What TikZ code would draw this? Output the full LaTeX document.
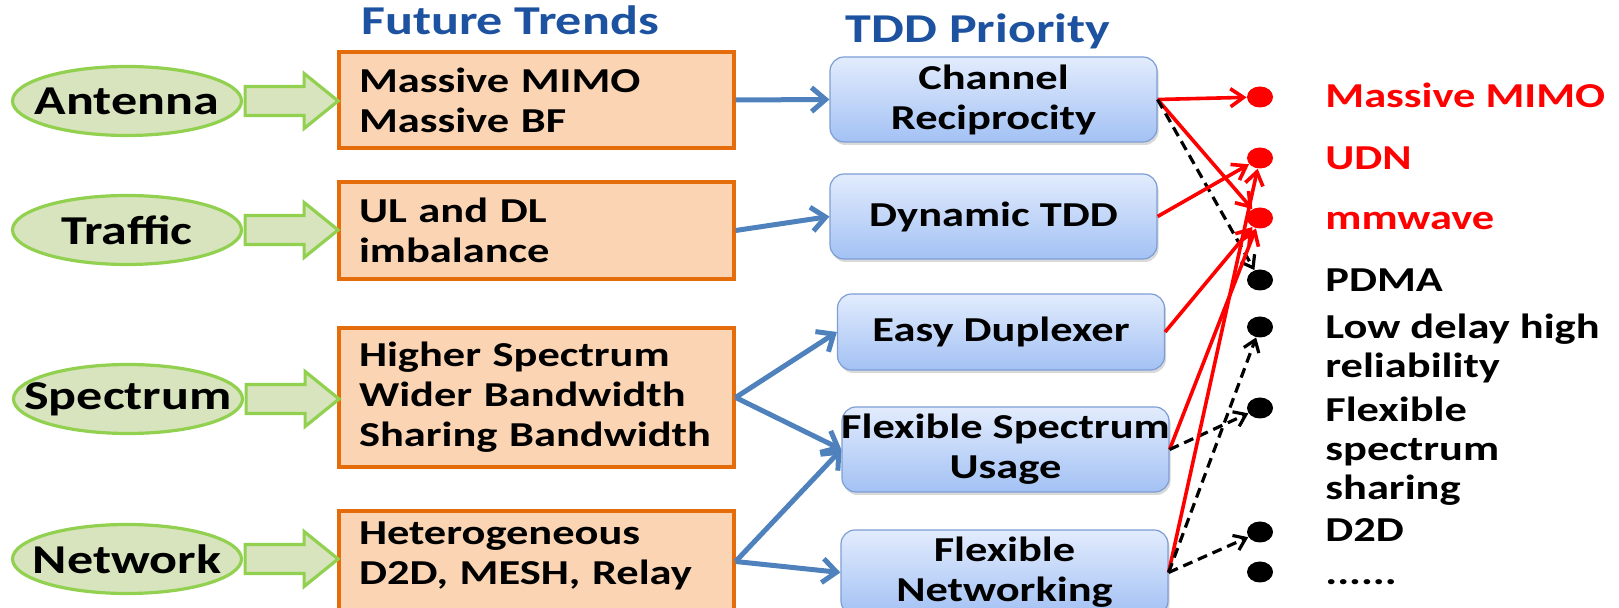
\documentclass[tikz,border=0pt]{standalone}
\usepackage{fontspec}
\setmainfont{Carlito}[FakeStretch=1.27]
\usetikzlibrary{arrows.meta,shapes.geometric,shadows,calc}
\definecolor{ofill}{RGB}{251,212,180}
\definecolor{oline}{RGB}{228,108,10}
\definecolor{gfill}{RGB}{215,228,189}
\definecolor{gline}{RGB}{146,208,80}
\definecolor{lblue}{RGB}{79,129,189}
\definecolor{btop}{RGB}{226,236,253}
\definecolor{bbot}{RGB}{163,193,244}
\definecolor{bline}{RGB}{125,158,212}
\definecolor{hblue}{RGB}{28,82,160}
\begin{document}
\begin{tikzpicture}[x=0.5pt,y=-0.5pt,
  ell/.style={ellipse, draw=gline, fill=gfill, line width=1.6pt, minimum width=114.5pt, minimum height=34.5pt, inner sep=0pt},
  elltext/.style={inner sep=0pt, font=\fontsize{20.5}{24}\selectfont\bfseries},
  obox/.style={rectangle, draw=oline, fill=ofill, line width=1.6pt, text width=177.5pt, inner xsep=10pt, align=left, font=\fontsize{17.5}{20}\selectfont\bfseries},
  otext/.style={text width=177.5pt, inner sep=0pt, align=left, font=\fontsize{17.5}{20}\selectfont\bfseries},
  bbox/.style={rectangle, rounded corners=7pt, draw=bline, line width=0.6pt, top color=btop, bottom color=bbot, minimum width=163.5pt, minimum height=42.5pt, inner sep=0pt, align=center, font=\fontsize{17.5}{20}\selectfont\bfseries, drop shadow={shadow xshift=0.8pt, shadow yshift=-1.5pt, opacity=0.3}},
  head/.style={text=hblue, anchor=base, inner sep=0pt, font=\fontsize{20.5}{24}\selectfont\bfseries},
  dotr/.style={ellipse, fill=red, minimum width=13pt, minimum height=10.5pt, inner sep=0pt},
  dotk/.style={dotr, fill=black},
  lab/.style={anchor=base west, align=left, inner sep=0pt, font=\fontsize{17.5}{19.5}\selectfont\bfseries},
  blockarrow/.style={draw=gline, fill=gfill, line width=1.6pt, line join=miter},
  bluearr/.style={draw=lblue, line width=2.5pt, -{Straight Barb[length=7pt,width=12pt]}},
  redarr/.style={draw=red, line width=1.8pt, -{Straight Barb[length=6.5pt,width=9pt]}},
  dasharr/.style={draw=black, line width=1.6pt, dash pattern=on 5pt off 3pt, -{Straight Barb[length=5.5pt,width=8pt]}}
]
\clip (0,0) rectangle (1619,608);

% headings
\node[head] (h1) at (510,35) {Future Trends};
\node[head] (h2) at (978,43) {TDD Priority};

% ellipses
\node[ell, label={[elltext]center:Antenna}] (ant) at (127,101) {};
\node[ell, label={[elltext]center:Traffic}] (tra) at (127,230) {};
\node[ell, label={[elltext]center:Spectrum}] (spe) at (128,399) {};
\node[ell, label={[elltext]center:Network}] (net) at (127,559) {};

% orange boxes
\node[obox, minimum height=48pt] (tr1) at (536.5,100) {Massive MIMO\\Massive BF};
\node[obox, minimum height=48.5pt] (tr2) at (536.5,230.5) {UL and DL\\imbalance};
\node[obox, minimum height=69.5pt] (tr3) at (536.5,397.5) {Higher Spectrum\\Wider Bandwidth\\Sharing Bandwidth};
\node[obox, minimum height=50.5pt, label={[otext, yshift=2.75pt]center:{Heterogeneous\\D2D, MESH, Relay}}] (tr4) at (536.5,561.5) {};

% block arrows
\foreach \e in {ant,tra,spe,net}{
  \draw[blockarrow] ($(\e.east)+(2,-14.5)$) -- ++(59,0) -- ++(0,-13) -- ++(34,27.5) -- ++(-34,27.5) -- ++(0,-13) -- ++(-59,0) -- cycle;
}

% blue boxes
\node[bbox] (cr) at (993.5,99.5) {Channel\\Reciprocity};
\node[bbox] (dt) at (993.5,216.5) {Dynamic TDD};
\node[bbox, minimum height=38pt] (ed) at (1001,332) {Easy Duplexer};
\node[bbox] (fsu) at (1005.5,449.5) {\makebox[0pt]{Flexible Spectrum}\\Usage};
\node[bbox] (fn) at (1004.5,572.5) {Flexible\\Networking};

% dots
\node[dotr] (d1) at (1260,97) {};
\node[dotr] (d2) at (1260,158) {};
\node[dotr] (d3) at (1260,218) {};
\node[dotk] (d4) at (1260,280) {};
\node[dotk] (d5) at (1260,327) {};
\node[dotk] (d6) at (1260,408) {};
\node[dotk] (d7) at (1260,532) {};
\node[dotk] (d8) at (1260,572) {};

% right labels (multi-line ones anchored at the baseline of their last line)
\node[lab, text=red] (l1) at (1325,108) {Massive MIMO};
\node[lab, text=red] (l2) at (1325,170) {UDN};
\node[lab, text=red] (l3) at (1325,230) {mmwave};
\node[lab] (l4) at (1325,292) {PDMA};
\node[lab] (l5) at (1325,378) {Low delay high\\reliability};
\node[lab] (l6) at (1325,500) {Flexible\\spectrum\\sharing};
\node[lab] (l7) at (1325,542) {D2D};
\node[lab] (l8) at (1325,585) {......};

% blue connectors
\draw[bluearr] (tr1.east) -- (cr.west);
\draw[bluearr] (tr2.east) -- (dt.west);
\draw[bluearr] (tr3.east) -- (ed.west);
\draw[bluearr] (tr3.east) -- (fsu.west);
\draw[bluearr] (tr4.east) -- (fsu.west);
\draw[bluearr] (tr4.east) -- (fn.west);

% red and dashed connectors
\draw[redarr] (cr.east) -- (d1);
\draw[redarr] (cr.east) -- (d3);
\draw[dasharr] (cr.east) -- (d4);
\draw[redarr] (dt.east) -- (d2);
\draw[redarr] (ed.east) -- (d3);
\draw[redarr] (fsu.east) -- (d3);
\draw[dasharr] (fsu.east) -- (d6);
\draw[redarr] (fn.east) -- (d2);
\draw[dasharr] (fn.east) -- (d5);
\draw[dasharr] (fn.east) -- (d7);
\end{tikzpicture}
\end{document}
